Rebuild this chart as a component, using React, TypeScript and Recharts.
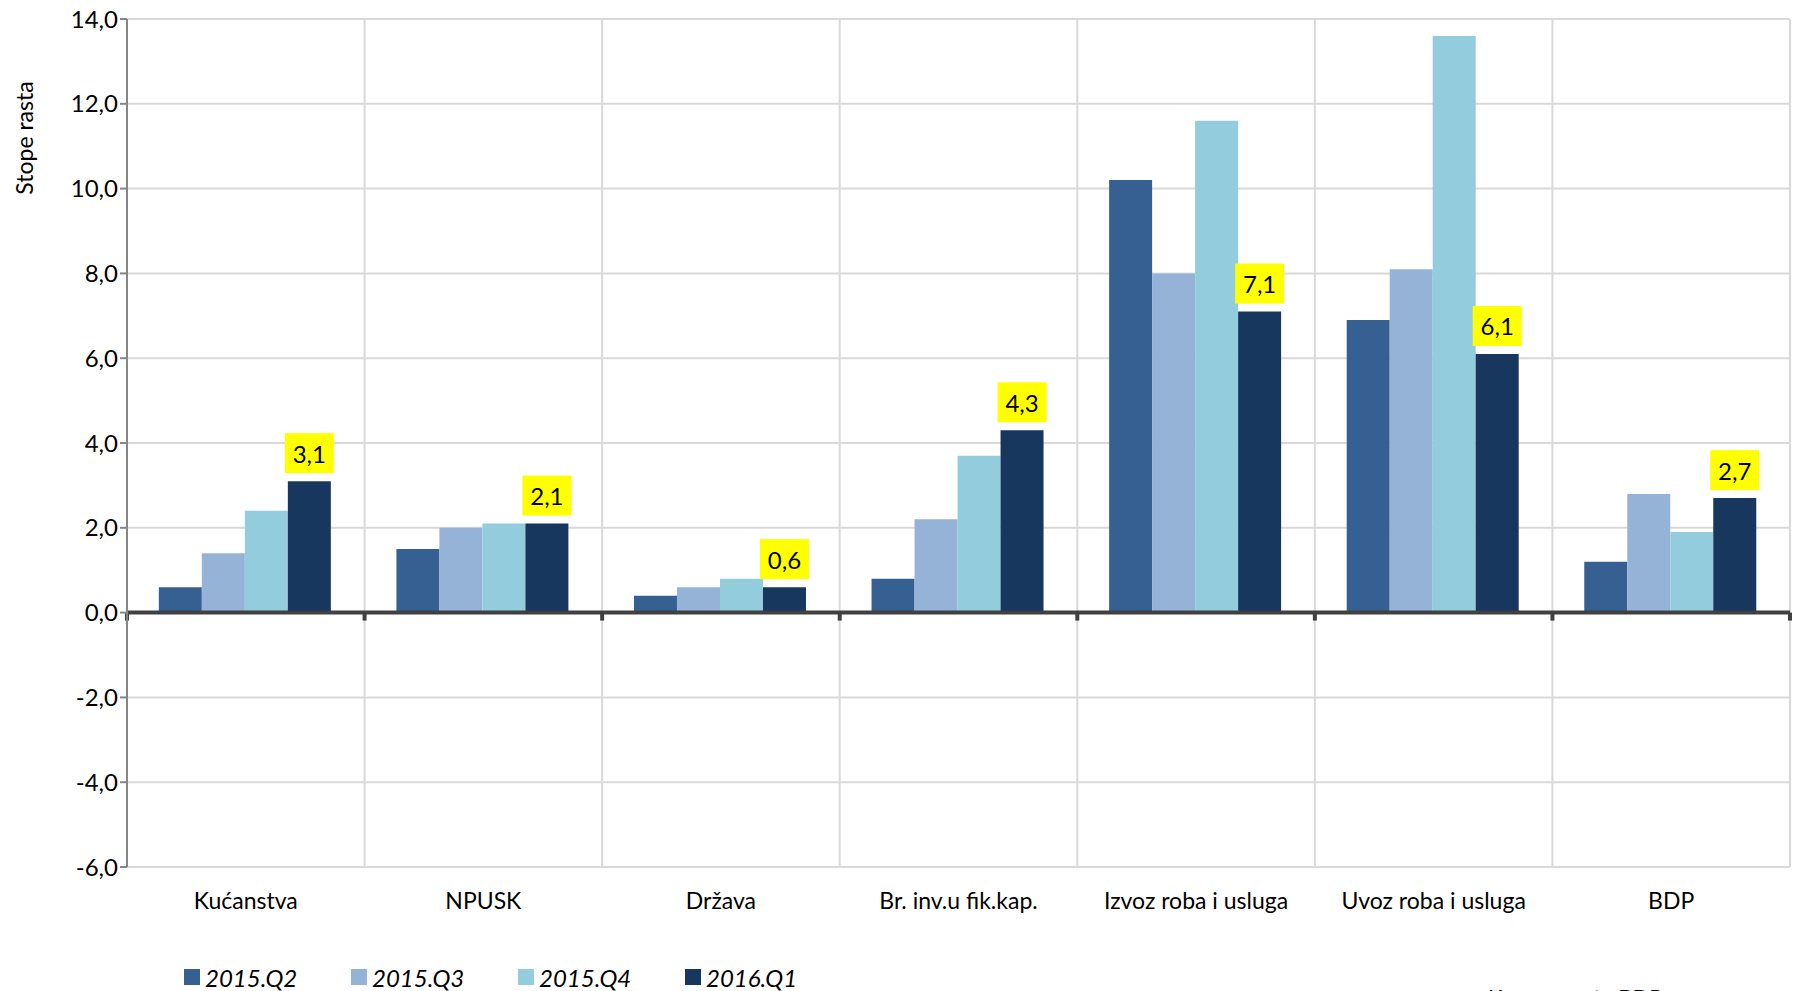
import {
  BarChart,
  Bar,
  XAxis,
  YAxis,
  CartesianGrid,
  ReferenceLine,
  Legend,
  LabelList,
} from "recharts";

const categories = [
  "Kućanstva",
  "NPUSK",
  "Država",
  "Br. inv.u fik.kap.",
  "Izvoz roba i usluga",
  "Uvoz roba i usluga",
  "BDP",
];

const q2_2015 = [0.6, 1.5, 0.4, 0.8, 10.2, 6.9, 1.2];
const q3_2015 = [1.4, 2.0, 0.6, 2.2, 8.0, 8.1, 2.8];
const q4_2015 = [2.4, 2.1, 0.8, 3.7, 11.6, 13.6, 1.9];
const q1_2016 = [3.1, 2.1, 0.6, 4.3, 7.1, 6.1, 2.7];

const seriesNames = ["2015.Q2", "2015.Q3", "2015.Q4", "2016.Q1"];
const COLORS = ["#376092", "#95B3D7", "#93CDDD", "#17375E"];

const yTicks = [-6, -4, -2, 0, 2, 4, 6, 8, 10, 12, 14];
const boundaries = [0, 1, 2, 3, 4, 5, 6, 7];

const FONT = "Lato, 'Open Sans', sans-serif";

const data = categories.map((name, i) => ({
  name,
  s0: q2_2015[i],
  s1: q3_2015[i],
  s2: q4_2015[i],
  s3: q1_2016[i],
}));

const fmt = (v: number) => v.toFixed(1).replace(".", ",");

function YellowLabel(props: any) {
  const { x, y, width, value } = props;
  const cx = x + width / 2;
  const bw = 49;
  const bh = 40;
  const top = y - 8 - bh;
  return (
    <g>
      <rect x={cx - bw / 2} y={top} width={bw} height={bh} fill="#FFFF00" />
      <text
        x={cx}
        y={top + bh / 2}
        textAnchor="middle"
        dominantBaseline="central"
        fontSize={24}
        fontFamily={FONT}
        fill="#000"
      >
        {fmt(value)}
      </text>
    </g>
  );
}

// zero line with small tick marks at category boundaries
function ZeroLine(props: any) {
  const { x1, y1, x2 } = props;
  const step = (x2 - x1) / categories.length;
  return (
    <g>
      <line x1={x1} y1={y1} x2={x2} y2={y1} stroke="#404040" strokeWidth={4} />
      {boundaries.map((b) => (
        <line
          key={b}
          x1={x1 + b * step}
          x2={x1 + b * step}
          y1={y1}
          y2={y1 + 8}
          stroke="#404040"
          strokeWidth={4}
        />
      ))}
    </g>
  );
}

function LegendContent() {
  return (
    <div style={{ position: "relative", height: 28, width: 1795 }}>
      {seriesNames.map((n, i) => (
        <div
          key={n}
          style={{
            position: "absolute",
            left: 184 + i * 167,
            top: 0,
            height: 28,
            display: "flex",
            alignItems: "center",
            fontFamily: FONT,
            fontStyle: "italic",
            fontSize: 24,
            color: "#000",
          }}
        >
          <span
            style={{
              display: "inline-block",
              width: 16,
              height: 16,
              background: COLORS[i],
              marginRight: 5,
            }}
          />
          {n}
        </div>
      ))}
    </div>
  );
}

export default function App() {
  return (
    <div
      style={{
        position: "fixed",
        left: 0,
        top: 0,
        width: 1795,
        height: 991,
        background: "#fff",
        overflow: "hidden",
      }}
    >
      <BarChart
        width={1795}
        height={991}
        data={data}
        margin={{ top: 19, right: 5, left: 0, bottom: 0 }}
        barCategoryGap="13.4%"
        barGap={0}
      >
        <CartesianGrid
          stroke="#D9D9D9"
          strokeWidth={2}
          verticalCoordinatesGenerator={({ offset }: any) =>
            boundaries.map((b) => offset.left + (b * offset.width) / categories.length)
          }
        />
        <XAxis
          dataKey="name"
          axisLine={false}
          tickLine={false}
          tickSize={0}
          tickMargin={0}
          height={96}
          interval={0}
          tick={(p: any) => (
            <text
              x={p.x}
              y={p.y + 33}
              textAnchor="middle"
              dominantBaseline="central"
              fontSize={23}
              fontFamily={FONT}
              fill="#000"
            >
              {p.payload.value}
            </text>
          )}
        />
        <YAxis
          width={127}
          domain={[-6, 14]}
          ticks={yTicks}
          interval={0}
          tickFormatter={fmt}
          axisLine={{ stroke: "#868686", strokeWidth: 2 }}
          tickLine={{ stroke: "#868686", strokeWidth: 2 }}
          tickSize={7}
          tick={{ fontSize: 24, fontFamily: FONT, fill: "#000" }}
          label={() => (
            <text
              x={24}
              y={138}
              transform="rotate(-90 24 138)"
              textAnchor="middle"
              dominantBaseline="central"
              fontSize={23}
              fontFamily={FONT}
              fill="#000"
            >
              Stope rasta
            </text>
          )}
        />
        <Legend
          verticalAlign="bottom"
          align="left"
          wrapperStyle={{ left: 0, width: 1795 }}
          content={() => <LegendContent />}
        />
        {["s0", "s1", "s2", "s3"].map((k, i) => (
          <Bar
            key={k}
            dataKey={k}
            name={seriesNames[i]}
            fill={COLORS[i]}
            isAnimationActive={false}
          >
            {i === 3 && <LabelList dataKey={k} content={YellowLabel} />}
          </Bar>
        ))}
        <ReferenceLine y={0} stroke="#404040" strokeWidth={4} shape={ZeroLine} />
      </BarChart>
      <div
        style={{
          position: "absolute",
          left: 1488,
          top: 983,
          fontFamily: FONT,
          fontSize: 22,
          color: "#000",
          whiteSpace: "nowrap",
        }}
      >
        Komponente BDP
      </div>
    </div>
  );
}
